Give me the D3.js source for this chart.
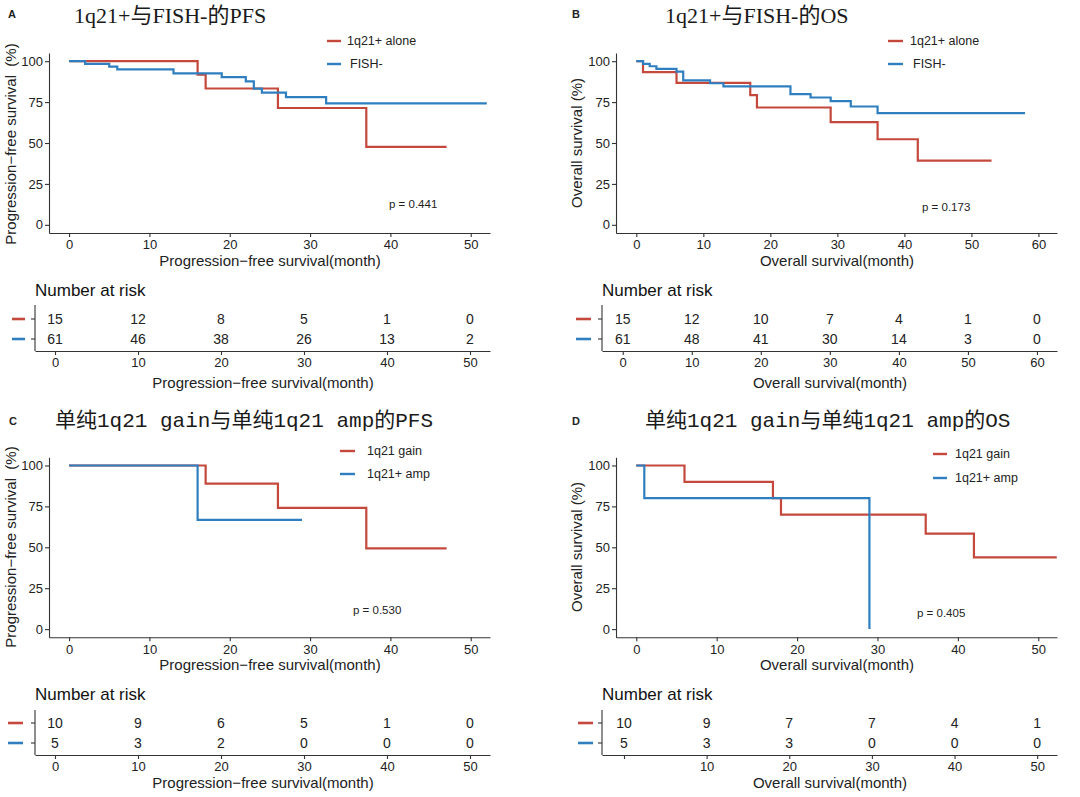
<!DOCTYPE html>
<html><head><meta charset="utf-8">
<script src="https://cdn.jsdelivr.net/npm/d3@7"></script>
<style>body{margin:0;background:#fff}svg{display:block;background:#fff}</style>
</head><body>
<svg id="chart" width="1080" height="797"></svg>
<script>
// ---------------- data ----------------
const panelLabels = ["A", "B", "C", "D"];
const titles = ["1q21+与FISH-的PFS", "1q21+与FISH-的OS", "单纯1q21 gain与单纯1q21 amp的PFS", "单纯1q21 gain与单纯1q21 amp的OS"];
const legendAB = ["1q21+ alone", "FISH-"];
const legendCD = ["1q21 gain", "1q21+ amp"];
const pValues = ["p = 0.441", "p = 0.173", "p = 0.530", "p = 0.405"];
const yTitles = ["Progression\u2212free survival  (%)", "Overall survival (%)", "Progression\u2212free survival  (%)", "Overall survival (%)"];
const xTitles = ["Progression\u2212free survival(month)", "Overall survival(month)", "Progression\u2212free survival(month)", "Overall survival(month)"];
const yTicks = [0, 25, 50, 75, 100];
const xTicks50 = [0, 10, 20, 30, 40, 50];
const xTicks60 = [0, 10, 20, 30, 40, 50, 60];
const riskTickLabelsD = ["", "10", "20", "30", "40", "50"];

// survival step curves: [month, survival %]
const pfsAlone = [[0,100],[16,91.7],[17,83.3],[26,71.4],[37,47.6],[47,47.6]];
const pfsFishNeg = [[0,100],[2,98.4],[5,96.7],[6,95.0],[13,92.6],[19,90.2],[22,87.6],[23,83.2],[24,80.8],[27,78.0],[32,74.2],[52,74.2]];
const osAlone = [[0,100],[1,93.3],[6,86.7],[17,79.2],[18,71.7],[29,62.8],[36,52.3],[42,39.2],[53,39.2]];
const osFishNeg = [[0,100],[1,98.4],[2,96.9],[3,95.3],[6,93.6],[7,88.3],[11,86.5],[13,84.6],[23,79.9],[26,77.8],[29,75.6],[32,72.3],[36,68.3],[58,68.3]];
const pfsGain = [[0,100],[17,88.9],[26,74.1],[37,49.4],[47,49.4]];
const pfsAmp = [[0,100],[16,66.7],[29,66.7]];
const osGain = [[0,100],[6,90],[17,80],[18,70],[36,58.3],[42,43.8],[52.3,43.8]];
const osAmp = [[0,100],[1,80],[29,80],[29,0]];

// number at risk
const riskTimes50 = [0, 10, 20, 30, 40, 50];
const riskTimes60 = [0, 10, 20, 30, 40, 50, 60];
const riskA_red = [15, 12, 8, 5, 1, 0];
const riskA_blue = [61, 46, 38, 26, 13, 2];
const riskB_red = [15, 12, 10, 7, 4, 1, 0];
const riskB_blue = [61, 48, 41, 30, 14, 3, 0];
const riskC_red = [10, 9, 6, 5, 1, 0];
const riskC_blue = [5, 3, 2, 0, 0, 0];
const riskD_red = [10, 9, 7, 7, 4, 1];
const riskD_blue = [5, 3, 3, 0, 0, 0];

// ---------------- style ----------------
const RED = "#C4493C", BLUE = "#2F7FC0";
const SANS = "'Liberation Sans', Arial, sans-serif";
const AX = "#333";
const TXT = "#222";

const svg = d3.select("#chart");

const panels = [
  { label: panelLabels[0], labelPos:[8,18], title: titles[0], titleFont:"'Liberation Serif','Noto Sans CJK SC',serif", titleSize:22, titlePos:[74,23],
    curves:[pfsAlone, pfsFishNeg], legend: legendAB, legLine:[327,341], legText:[347,350], legY:[41,64],
    p: pValues[0], pPos:[389,204],
    xDom:[-2.5,52.4], xRange:[49,490], xTicks:xTicks50, yRange:[233,53], yTitle:yTitles[0], yTitlePos:[11,144],
    xTitle:xTitles[0], xTitlePos:[270,266],
    risk:{ dom:[-2.41,52.41], range:[35,490], times:riskTimes50, labels:null, red:riskA_red, blue:riskA_blue,
      head:[35,296], rows:[319,339], axisY:351, top:305, dash:[12,25], xTitlePos:[263,388] } },
  { label: panelLabels[1], labelPos:[572,18], title: titles[1], titleFont:"'Liberation Serif','Noto Sans CJK SC',serif", titleSize:22, titlePos:[665,23],
    curves:[osAlone, osFishNeg], legend: legendAB, legLine:[888,903], legText:[910,913], legY:[41,64],
    p: pValues[1], pPos:[922,207],
    xDom:[-3.03,62.77], xRange:[616,1057], xTicks:xTicks60, yRange:[233,53], yTitle:yTitles[1], yTitlePos:[577,143],
    xTitle:xTitles[1], xTitlePos:[837,266],
    risk:{ dom:[-3.0,62.9], range:[602,1057], times:riskTimes60, labels:null, red:riskB_red, blue:riskB_blue,
      head:[602,296], rows:[319,339], axisY:351, top:305, dash:[576,591], xTitlePos:[830,388] } },
  { label: panelLabels[2], labelPos:[9,425], title: titles[2], titleFont:"'Liberation Mono','Noto Sans CJK SC',monospace", titleSize:21, titlePos:[55,427],
    curves:[pfsGain, pfsAmp], legend: legendCD, legLine:[340,355], legText:[367,367], legY:[451,474],
    p: pValues[2], pPos:[353,610],
    xDom:[-2.5,52.4], xRange:[49,490], xTicks:xTicks50, yRange:[637.3,457.3], yTitle:yTitles[2], yTitlePos:[11,547],
    xTitle:xTitles[2], xTitlePos:[270,670],
    risk:{ dom:[-2.41,52.41], range:[35,490], times:riskTimes50, labels:null, red:riskC_red, blue:riskC_blue,
      head:[35,700], rows:[723,743], axisY:755, top:710, dash:[8,23], xTitlePos:[263,788] } },
  { label: panelLabels[3], labelPos:[572,425], title: titles[3], titleFont:"'Liberation Mono','Noto Sans CJK SC',monospace", titleSize:21, titlePos:[645,427],
    curves:[osGain, osAmp], legend: legendCD, legLine:[933,947], legText:[955,955], legY:[454,478],
    p: pValues[3], pPos:[917,613],
    xDom:[-2.52,52.33], xRange:[616,1057], xTicks:xTicks50, yRange:[637.3,457.3], yTitle:yTitles[3], yTitlePos:[577,547],
    xTitle:xTitles[3], xTitlePos:[837,670],
    risk:{ dom:[-2.66,52.4], range:[602,1057], times:riskTimes50, labels:riskTickLabelsD, red:riskD_red, blue:riskD_blue,
      head:[602,700], rows:[723,743], axisY:755, top:710, dash:[578,593], xTitlePos:[830,788] } }
];

function styleAxis(g, size) {
  g.select(".domain").attr("stroke", AX).attr("stroke-width", 1.1);
  g.selectAll(".tick line").attr("stroke", AX).attr("stroke-width", 1.1);
  g.selectAll(".tick text").attr("fill", TXT).style("font-family", SANS).style("font-size", size + "px");
}

panels.forEach(P => {
  // panel letter
  svg.append("text").attr("x", P.labelPos[0]).attr("y", P.labelPos[1])
    .style("font-family", SANS).style("font-weight", "bold").style("font-size", "11px").attr("fill", TXT).text(P.label);
  // title
  svg.append("text").attr("x", P.titlePos[0]).attr("y", P.titlePos[1])
    .style("font-family", P.titleFont).style("font-size", P.titleSize + "px").attr("fill", "#1a1a1a")
    .style("white-space", "pre").text(P.title);

  const x = d3.scaleLinear().domain(P.xDom).range(P.xRange);
  const y = d3.scaleLinear().domain([-5, 105]).range(P.yRange);

  // axes
  const gx = svg.append("g").attr("transform", `translate(0,${P.yRange[0]})`)
    .call(d3.axisBottom(x).tickValues(P.xTicks).tickSize(4).tickSizeOuter(0).tickPadding(3));
  styleAxis(gx, 13);
  const gy = svg.append("g").attr("transform", `translate(${P.xRange[0]},0)`)
    .call(d3.axisLeft(y).tickValues(yTicks).tickSize(4).tickSizeOuter(0).tickPadding(2));
  styleAxis(gy, 13);

  // curves
  const line = d3.line().x(d => x(d[0])).y(d => y(d[1])).curve(d3.curveStepAfter);
  [RED, BLUE].forEach((col, i) => {
    svg.append("path").datum(P.curves[i]).attr("d", line)
      .attr("fill", "none").attr("stroke", col).attr("stroke-width", 2.2).attr("stroke-linejoin", "miter");
  });

  // legend
  [RED, BLUE].forEach((col, i) => {
    svg.append("line").attr("x1", P.legLine[0]).attr("x2", P.legLine[1]).attr("y1", P.legY[i]).attr("y2", P.legY[i])
      .attr("stroke", col).attr("stroke-width", 2.4);
    svg.append("text").attr("x", P.legText[i]).attr("y", P.legY[i]).attr("dy", "0.35em")
      .style("font-family", SANS).style("font-size", "12.5px").attr("fill", TXT).text(P.legend[i]);
  });

  // p value
  svg.append("text").attr("x", P.pPos[0]).attr("y", P.pPos[1]).attr("dy", "0.35em")
    .style("font-family", SANS).style("font-size", "11.5px").attr("fill", TXT).text(P.p);

  // axis titles
  svg.append("text").attr("transform", `translate(${P.yTitlePos[0]},${P.yTitlePos[1]}) rotate(-90)`)
    .attr("text-anchor", "middle").attr("dy", "0.35em").style("white-space", "pre")
    .style("font-family", SANS).style("font-size", "15px").attr("fill", TXT).text(P.yTitle);
  svg.append("text").attr("x", P.xTitlePos[0]).attr("y", P.xTitlePos[1]).attr("text-anchor", "middle")
    .style("font-family", SANS).style("font-size", "15px").attr("fill", TXT).text(P.xTitle);

  // risk table
  const R = P.risk;
  const rx = d3.scaleLinear().domain(R.dom).range(R.range);
  svg.append("text").attr("x", R.head[0]).attr("y", R.head[1])
    .style("font-family", SANS).style("font-size", "17px").attr("fill", "#111").text("Number at risk");
  const rAxis = d3.axisBottom(rx).tickValues(R.times).tickSize(4).tickSizeOuter(0).tickPadding(3);
  if (R.labels) rAxis.tickFormat((d, i) => R.labels[i]);
  const grx = svg.append("g").attr("transform", `translate(0,${R.axisY})`).call(rAxis);
  styleAxis(grx, 13);
  // vertical axis of risk table
  svg.append("line").attr("x1", R.range[0]).attr("x2", R.range[0]).attr("y1", R.top).attr("y2", R.axisY)
    .attr("stroke", AX).attr("stroke-width", 1.1);
  [R.red, R.blue].forEach((vals, i) => {
    const yy = R.rows[i];
    svg.append("line").attr("x1", R.range[0] - 4).attr("x2", R.range[0]).attr("y1", yy).attr("y2", yy)
      .attr("stroke", AX).attr("stroke-width", 1.1);
    svg.append("line").attr("x1", R.dash[0]).attr("x2", R.dash[1]).attr("y1", yy).attr("y2", yy)
      .attr("stroke", i === 0 ? RED : BLUE).attr("stroke-width", 2.6);
    svg.selectAll(null).data(vals).enter().append("text")
      .attr("x", (d, j) => rx(R.times[j])).attr("y", yy).attr("dy", "0.36em").attr("text-anchor", "middle")
      .style("font-family", SANS).style("font-size", "14px").attr("fill", TXT).text(d => d);
  });
  svg.append("text").attr("x", R.xTitlePos[0]).attr("y", R.xTitlePos[1]).attr("text-anchor", "middle")
    .style("font-family", SANS).style("font-size", "15px").attr("fill", TXT).text(P.xTitle);
});
</script>
</body></html>
